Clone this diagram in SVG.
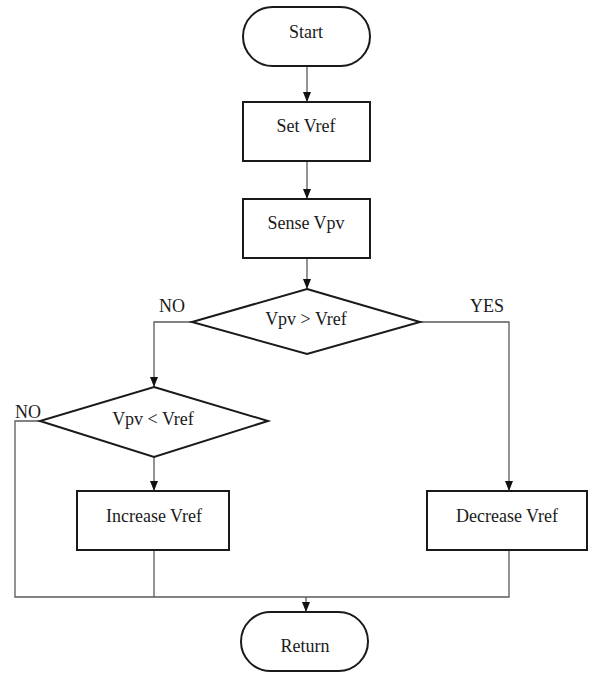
<svg xmlns="http://www.w3.org/2000/svg" width="590" height="673" viewBox="0 0 590 673">
<style>
.shape{fill:#fff;stroke:#1a1a1a;stroke-width:2}
.conn{fill:none;stroke:#5a5a5a;stroke-width:1.3}
text{font-family:"Liberation Serif","Times New Roman",serif;font-size:18px;fill:#1a1a1a;text-anchor:middle}
</style>
<defs>
<marker id="arr" markerUnits="userSpaceOnUse" markerWidth="10" markerHeight="10" viewBox="0 0 10 10" refX="10" refY="5" orient="auto">
<path d="M0,1 L10,5 L0,9 Z" fill="#111"/>
</marker>
</defs>
<rect width="590" height="673" fill="#fff"/>
<g id="connectors">
<path class="conn" d="M307,66 V102" marker-end="url(#arr)"/>
<path class="conn" d="M307,161 V199" marker-end="url(#arr)"/>
<path class="conn" d="M307,258 V289" marker-end="url(#arr)"/>
<path class="conn" d="M192,322 H154 V387" marker-end="url(#arr)"/>
<path class="conn" d="M420,322 H509 V491" marker-end="url(#arr)"/>
<path class="conn" d="M154,457 V491" marker-end="url(#arr)"/>
<path class="conn" d="M40,421 H15 V597 H509 V550"/>
<path class="conn" d="M154,550 V597"/>
<path class="conn" d="M306,597 V612" marker-end="url(#arr)"/>
<text x="172" y="312">NO</text>
<text x="487" y="312">YES</text>
<text x="28" y="418">NO</text>
</g>
<g id="start">
<rect class="shape" x="243" y="7" width="127" height="59" rx="29.5"/>
<text x="306" y="38">Start</text>
</g>
<g id="set-vref">
<rect class="shape" x="243" y="102" width="127" height="59"/>
<text x="306" y="132">Set Vref</text>
</g>
<g id="sense-vpv">
<rect class="shape" x="243" y="199" width="127" height="59"/>
<text x="306" y="229">Sense Vpv</text>
</g>
<g id="decision-gt">
<polygon class="shape" points="307,289 420,322 307,354 192,322"/>
<text x="306" y="325">Vpv &gt; Vref</text>
</g>
<g id="decision-lt">
<polygon class="shape" points="154,387 268,421 154,457 40,421"/>
<text x="153" y="425">Vpv &lt; Vref</text>
</g>
<g id="increase-vref">
<rect class="shape" x="77" y="491" width="152" height="59"/>
<text x="154" y="522">Increase Vref</text>
</g>
<g id="decrease-vref">
<rect class="shape" x="427" y="491" width="160" height="59"/>
<text x="507" y="522">Decrease Vref</text>
</g>
<g id="return">
<rect class="shape" x="241" y="612" width="127" height="59" rx="29.5"/>
<text x="305" y="652">Return</text>
</g>
</svg>
